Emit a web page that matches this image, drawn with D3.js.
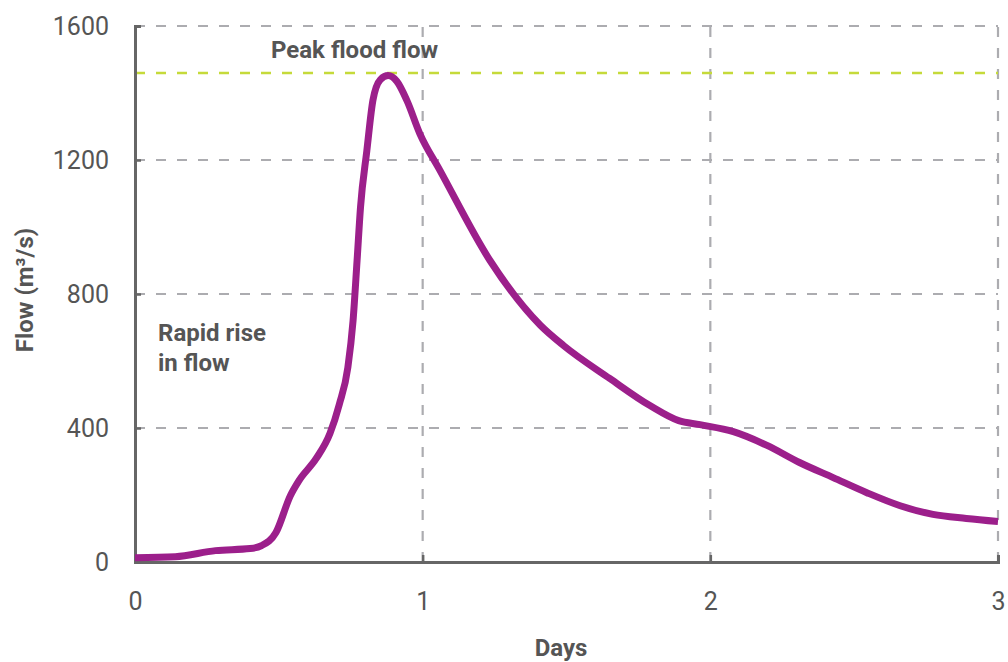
<!DOCTYPE html>
<html>
<head>
<meta charset="utf-8">
<script src="https://cdn.jsdelivr.net/npm/d3@7"></script>
<style>
  body { margin: 0; background: #fff; }
  svg { font-family: Roboto, "Noto Sans", sans-serif; }
</style>
</head>
<body>
<svg width="1008" height="662"></svg>
<script>
// hydrograph values
var days = [0, 0.14, 0.28, 0.4, 0.44, 0.49, 0.54, 0.57, 0.63, 0.678, 0.71, 0.74, 0.758, 0.772, 0.784, 0.806, 0.827, 0.853, 0.88, 0.91, 0.945, 0.99, 1.06, 1.234, 1.41, 1.49, 1.65, 1.79, 1.89, 1.964, 2.08, 2.197, 2.31, 2.427, 2.544, 2.66, 2.774, 2.89, 3.0]
var flow = [13, 16, 34, 40, 49, 88, 198, 243, 309, 384, 470, 581, 720, 900, 1060, 1228, 1378, 1440, 1452, 1435, 1378, 1279, 1169, 900, 706, 646, 548, 467, 422, 410, 389, 348, 297, 252, 207, 168, 142, 130, 121]
var peakFlow = 1460
var xTicks = [0, 1, 2, 3]
var yTicks = [0, 400, 800, 1200, 1600]

var svg = d3.select("svg")

var x = d3.scaleLinear().domain([0, 3]).range([135, 998])
var y = d3.scaleLinear().domain([0, 1600]).range([562, 26])

var gridColor = "#acacb0"

// grid
svg.append("g")
  .selectAll("line")
  .data(yTicks.slice(1))
  .join("line")
  .attr("x1", x(0)).attr("x2", x(3))
  .attr("y1", d => y(d)).attr("y2", d => y(d))
  .attr("stroke", gridColor).attr("stroke-width", 2.2)
  .attr("stroke-dasharray", "10,11")

svg.append("g")
  .selectAll("line")
  .data(xTicks.slice(1))
  .join("line")
  .attr("x1", d => x(d)).attr("x2", d => x(d))
  .attr("y1", y(0)).attr("y2", y(1600))
  .attr("stroke", gridColor).attr("stroke-width", 2.2)
  .attr("stroke-dasharray", "10,11")

// peak line
svg.append("line")
  .attr("x1", x(0)).attr("x2", x(3))
  .attr("y1", y(peakFlow)).attr("y2", y(peakFlow))
  .attr("stroke", "#c5da3a").attr("stroke-width", 2.5)
  .attr("stroke-dasharray", "10,11")

// axes
var xAxis = svg.append("g")
  .attr("transform", `translate(0,${y(0)})`)
  .call(d3.axisBottom(x).tickValues(xTicks).tickSize(-7).tickPadding(30).tickFormat(d3.format("d")))
var yAxis = svg.append("g")
  .attr("transform", `translate(${x(0)},0)`)
  .call(d3.axisLeft(y).tickValues(yTicks).tickSize(-6).tickPadding(26).tickFormat(d3.format("d")))

;[xAxis, yAxis].forEach(g => {
  g.attr("font-family", null)
  g.select(".domain").attr("stroke", "#666").attr("stroke-width", 3)
  g.selectAll(".tick line").attr("stroke", "#666").attr("stroke-width", 2.5)
  g.selectAll(".tick text").attr("fill", "#555").style("font-size", "25px")
})
yAxis.selectAll(".tick text").attr("dy", "0.35em")

// line
var line = d3.line()
  .x((d, i) => x(days[i]))
  .y((d, i) => y(flow[i]))
  .curve(d3.curveMonotoneX)

svg.append("path")
  .datum(flow)
  .attr("d", line)
  .attr("fill", "none")
  .attr("stroke", "#9c1f8b")
  .attr("stroke-width", 7)
  .attr("stroke-linejoin", "round")

// labels
var labelStyle = s => s.attr("fill", "#555").style("font-size", "24px").style("font-weight", "bold")

svg.append("text")
  .attr("x", 271).attr("y", 58)
  .call(labelStyle)
  .text("Peak flood flow")

var rise = svg.append("text").call(labelStyle)
rise.append("tspan").attr("x", 158).attr("y", 341).text("Rapid rise")
rise.append("tspan").attr("x", 158).attr("y", 371).text("in flow")

svg.append("text")
  .attr("x", 561).attr("y", 656)
  .attr("text-anchor", "middle")
  .call(labelStyle)
  .text("Days")

svg.append("text")
  .attr("transform", "translate(33,290) rotate(-90)")
  .attr("text-anchor", "middle")
  .call(labelStyle)
  .text("Flow (m³/s)")
</script>
</body>
</html>
